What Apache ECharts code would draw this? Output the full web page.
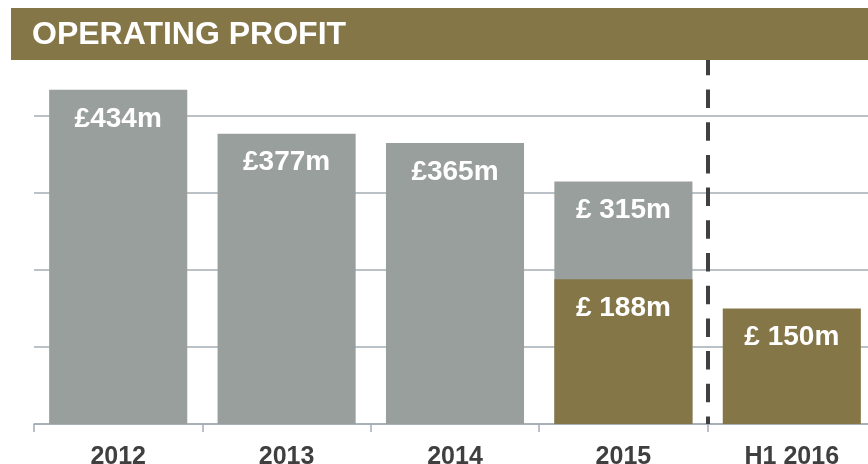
<!DOCTYPE html>
<html><head><meta charset="utf-8">
<script src="https://cdn.jsdelivr.net/npm/echarts@6/dist/echarts.min.js"></script>
<style>html,body{margin:0;padding:0;background:#fff}#c{width:868px;height:464px}</style>
</head><body><div id="c"></div>
<script>
const categories = ['2012', '2013', '2014', '2015', 'H1 2016'];
const fullYear = [434, 377, 365, 315, null];
const firstHalf = [null, null, null, 188, 150];
const fullYearLabels = ['£434m', '£377m', '£365m', '£ 315m', ''];
const firstHalfLabels = ['', '', '', '£ 188m', '£ 150m'];
const yTicks = [0, 100, 200, 300, 400, 500];
const dividerAt = 4;

const GRAY = '#999f9c', OLIVE = '#857647';
const chart = echarts.init(document.getElementById('c'), null, {renderer: 'canvas'});
const labelStyle = {show: true, position: 'insideTop', distance: 15, color: '#fff',
  fontFamily: 'Liberation Sans, Arial, sans-serif', fontWeight: 'bold', fontSize: 28};
chart.setOption({
  animation: false,
  grid: {left: 34, width: 842, top: 39, height: 385, containLabel: false, outerBoundsMode: 'none'},
  xAxis: [{
    type: 'category', data: categories,
    axisLine: {lineStyle: {color: '#a3acb5', width: 1.5}},
    axisTick: {show: true, length: 8, lineStyle: {color: '#a3acb5', width: 1.5}},
    axisLabel: {color: '#3f3f3f', fontFamily: 'Liberation Sans, Arial, sans-serif', fontWeight: 'bold', fontSize: 25, margin: 21}
  }, {
    type: 'value', min: 0, max: categories.length, show: false
  }],
  yAxis: {
    type: 'value', min: yTicks[0], max: yTicks[yTicks.length - 1], interval: 100,
    axisLine: {show: false}, axisTick: {show: false}, axisLabel: {show: false},
    splitLine: {lineStyle: {color: '#a3acb5', width: 1.5}}
  },
  series: [{
    type: 'bar', name: 'Full year', data: fullYear, barCategoryGap: '18%', barGap: '-100%',
    itemStyle: {color: GRAY},
    label: Object.assign({}, labelStyle, {formatter: p => fullYearLabels[p.dataIndex]})
  }, {
    type: 'bar', name: 'H1', data: firstHalf, barCategoryGap: '18%', barGap: '-100%',
    itemStyle: {color: OLIVE},
    label: Object.assign({}, labelStyle, {formatter: p => firstHalfLabels[p.dataIndex]})
  }, {
    type: 'line', xAxisIndex: 1, data: [], symbol: 'none', silent: true,
    markLine: {
      silent: true, symbol: 'none', label: {show: false},
      lineStyle: {color: '#404040', width: 4, type: [18.5, 14.2], dashOffset: 11},
      data: [{xAxis: dividerAt}]
    }
  }],
  graphic: [{
    type: 'rect', z: 100, shape: {x: 11, y: 8, width: 857, height: 52}, style: {fill: OLIVE}
  }, {
    type: 'text', z: 101, left: 32, top: 19,
    style: {text: 'OPERATING PROFIT', fill: '#fff', font: 'bold 32px "Liberation Sans", Arial, sans-serif'}
  }]
});
</script></body></html>
